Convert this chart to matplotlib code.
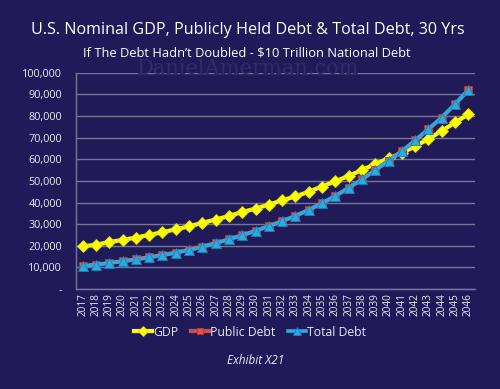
import matplotlib
matplotlib.use("Agg")
import matplotlib.pyplot as plt
from matplotlib.ticker import FuncFormatter, MultipleLocator

years = [str(y) for y in range(2017, 2047)]
gdp = [19700, 20500, 21700, 22700, 23800, 25000, 26300, 27600, 29000, 30600,
       32100, 33800, 35600, 37200, 39000, 41000, 42800, 45000, 47400, 49800,
       52300, 55000, 57800, 60400, 62900, 66000, 69400, 73100, 77000, 80800]
public_debt = [10600, 11300, 12000, 12900, 13700, 14700, 15700, 16800, 18100, 19600,
               21200, 23000, 24900, 26900, 29100, 31400, 33800, 36600, 39700, 43000,
               46800, 50700, 55000, 59400, 63700, 68700, 73900, 79300, 85500, 92000]
total_debt = [10600, 11300, 12000, 12900, 13700, 14700, 15700, 16800, 18100, 19600,
              21200, 23000, 24900, 26900, 29100, 31400, 33800, 36600, 39700, 43000,
              46800, 50700, 55000, 59400, 63700, 68700, 73900, 79300, 85500, 92000]

title = "U.S. Nominal GDP, Publicly Held Debt & Total Debt, 30 Yrs"
subtitle = "If The Debt Hadn\u2019t Doubled - $10 Trillion National Debt"
watermark = "DanielAmerman.com"
footer = "Exhibit X21"

BG = "#201b58"
TXT = "#e8e8f2"
GRID = "#76759a"

plt.rcParams['font.family'] = ['Open Sans', 'DejaVu Sans']

fig = plt.figure(figsize=(5, 3.89), dpi=100, facecolor=BG)
ax = fig.add_axes([0.152, 0.257, 0.798, 0.556])
ax.set_facecolor(BG)

x = list(range(len(years)))
ax.plot(x, gdp, color="#ffff00", lw=3.0, marker="D", ms=6.5,
        mfc="#ffff00", mec="#d8d800", mew=0.6, label="GDP", zorder=3)
ax.plot(x, public_debt, color="#c9504d", lw=3.0, marker="s", ms=6,
        mfc="#d9534f", mec="#c0392b", mew=0.6, label="Public Debt", zorder=4)
ax.plot(x, total_debt, color="#29abe2", lw=2.6, marker="^", ms=6.5,
        mfc="#29abe2", mec="#1b7fb0", mew=0.6, label="Total Debt", zorder=5)

ax.set_xlim(-0.5, len(years) - 0.5)
ax.set_ylim(0, 100000)
ax.yaxis.set_major_locator(MultipleLocator(10000))
ax.yaxis.set_major_formatter(FuncFormatter(lambda v, p: "-" if v == 0 else f"{int(v):,}"))
ax.set_xticks(x)
ax.set_xticklabels(years, rotation=90, fontsize=7.2, color=TXT)
ax.tick_params(axis='y', labelsize=7.8, colors=TXT, length=0, pad=10)
ax.tick_params(axis='x', length=0, pad=3, colors=TXT)
ax.grid(axis='y', color=GRID, lw=1.0)
ax.set_axisbelow(True)
for s in ["top", "right"]:
    ax.spines[s].set_visible(False)
for s in ["left", "bottom"]:
    ax.spines[s].set_color(GRID)
    ax.spines[s].set_linewidth(1.0)

fig.text(0.495, 0.922, title, ha="center", va="center", color="white", fontsize=11.6)
fig.text(0.494, 0.864, subtitle, ha="center", va="center", color="white", fontsize=9.3)
fig.text(0.496, 0.823, watermark, ha="center", va="center", color="#302b6c",
         fontsize=15, family=["DejaVu Serif"])
fig.text(0.512, 0.072, footer, ha="center", va="center", color=TXT, fontsize=8.5,
         style="italic")

leg = fig.legend(loc="center", bbox_to_anchor=(0.5, 0.146), ncol=3, frameon=False,
                 fontsize=8.8, labelcolor=TXT, handlelength=1.5, handletextpad=0.1,
                 columnspacing=1.0, markerscale=0.8)

fig.savefig("out.png", dpi=100, facecolor=BG)
